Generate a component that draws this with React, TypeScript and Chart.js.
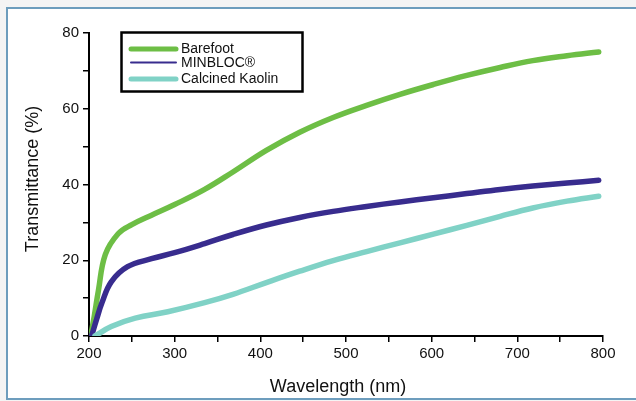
import { useEffect, useRef } from "react";
import { Chart, registerables } from "chart.js";

Chart.register(...registerables);

// ---- Data ----
const barefootWl = [202, 206, 211, 219, 234, 250, 273, 300, 335, 368, 407, 446, 485, 524, 563, 602, 641, 680, 718, 758, 795];
const barefootT = [0, 5, 12, 21.5, 27, 29.4, 31.9, 34.7, 38.7, 43.3, 49.0, 53.8, 57.7, 60.9, 63.8, 66.4, 68.8, 70.9, 72.7, 74.0, 75.0];

const minblocWl = [203, 209, 215, 226, 245, 273, 300, 335, 368, 407, 446, 485, 524, 563, 602, 641, 680, 718, 758, 795];
const minblocT = [0, 4.5, 8.7, 14.3, 18.3, 20.4, 22.0, 24.4, 26.8, 29.3, 31.3, 32.9, 34.2, 35.4, 36.5, 37.6, 38.7, 39.6, 40.4, 41.1];

const kaolinWl = [207, 226, 254, 292, 335, 368, 407, 446, 485, 524, 563, 602, 641, 680, 718, 758, 795];
const kaolinT = [0, 2.5, 4.7, 6.4, 8.8, 11.0, 14.1, 17.1, 19.9, 22.3, 24.6, 26.9, 29.2, 31.6, 33.8, 35.6, 36.9];

const seriesNames = ["Barefoot", "MINBLOC®", "Calcined Kaolin"];
const xTitle = "Wavelength (nm)";
const yTitle = "Transmittance (%)";
const xMin = 200, xMax = 800, xStep = 50, xLabelEvery = 100;
const yMin = 0, yMax = 80, yStep = 10, yLabelEvery = 20;

const GREEN = "#6dbe45";
const PURPLE = "#382c8e";
const TEAL = "#80d2c6";
const FRAME = "#6d9dbd";
const FONT = "'Liberation Sans', Arial, Helvetica, sans-serif";

const toPts = (xs: number[], ys: number[]) => xs.map((x, i) => ({ x, y: ys[i] }));

const framePlugin = {
  id: "frame",
  beforeDraw(chart: any) {
    const { ctx, width, height } = chart;
    ctx.save();
    ctx.fillStyle = "#f4f4f4";
    ctx.fillRect(0, 0, width, height);
    ctx.fillStyle = "#ffffff";
    ctx.fillRect(8, 9, width - 8, 389);
    ctx.fillStyle = FRAME;
    ctx.fillRect(6, 7, width - 6, 2);
    ctx.fillRect(6, 7, 2, 393);
    ctx.fillRect(6, 398, width - 6, 2);
    ctx.restore();
  },
};

const decorPlugin = {
  id: "decor",
  afterDraw(chart: any) {
    const { ctx } = chart;
    ctx.save();
    // axis titles
    ctx.fillStyle = "#111";
    ctx.font = `18px ${FONT}`;
    ctx.textAlign = "center";
    ctx.textBaseline = "middle";
    ctx.fillText(xTitle, 338, 387);
    ctx.translate(33, 179);
    ctx.rotate(-Math.PI / 2);
    ctx.fillText(yTitle, 0, 0);
    ctx.restore();

    // legend
    ctx.save();
    const bx = 121.5, by = 32.5, bw = 181, bh = 59;
    ctx.fillStyle = "#fff";
    ctx.fillRect(bx, by, bw, bh);
    ctx.strokeStyle = "#000";
    ctx.lineWidth = 2.5;
    ctx.strokeRect(bx, by, bw, bh);
    const rows = [49, 62.5, 79];
    const colors = [GREEN, PURPLE, TEAL];
    const widths = [5, 2, 5];
    ctx.lineCap = "round";
    seriesNames.forEach((name, i) => {
      ctx.strokeStyle = colors[i];
      ctx.lineWidth = widths[i];
      ctx.beginPath();
      ctx.moveTo(131, rows[i]);
      ctx.lineTo(176, rows[i]);
      ctx.stroke();
      ctx.fillStyle = "#111";
      ctx.font = `14px ${FONT}`;
      ctx.textAlign = "left";
      ctx.textBaseline = "middle";
      ctx.fillText(name, 181, rows[i] + 0.5);
    });
    ctx.restore();
  },
};

export default function App() {
  const ref = useRef<HTMLCanvasElement | null>(null);
  useEffect(() => {
    if (!ref.current) return;
    const lineDs = (label: string, data: any[], color: string) => ({
      label,
      data,
      borderColor: color,
      backgroundColor: color,
      borderWidth: 5.5,
      borderCapStyle: "round" as const,
      borderJoinStyle: "round" as const,
      pointRadius: 0,
      tension: 0.4,
      fill: false,
    });
    const chart = new Chart(ref.current, {
      type: "line",
      data: {
        datasets: [
          lineDs(seriesNames[2], toPts(kaolinWl, kaolinT), TEAL),
          lineDs(seriesNames[1], toPts(minblocWl, minblocT), PURPLE),
          lineDs(seriesNames[0], toPts(barefootWl, barefootT), GREEN),
        ],
      },
      options: {
        responsive: false,
        animation: false,
        devicePixelRatio: 1,
        layout: { padding: { top: 33, right: 33, left: 0, bottom: 0 } },
        plugins: { legend: { display: false }, tooltip: { enabled: false }, title: { display: false } },
        scales: {
          x: {
            type: "linear",
            min: xMin,
            max: xMax,
            afterFit: (s: any) => { s.height = 65; },
            border: { display: true, color: "#000", width: 2 },
            grid: { drawOnChartArea: false, drawTicks: true, tickLength: 6, color: "#000", lineWidth: 1.5 },
            ticks: {
              stepSize: xStep,
              padding: 3,
              color: "#111",
              font: { family: FONT, size: 15 },
              maxRotation: 0,
              autoSkip: false,
              callback: (v: any) => (Number(v) % xLabelEvery === 0 ? String(v) : ""),
            },
          },
          y: {
            type: "linear",
            min: yMin,
            max: yMax,
            afterFit: (s: any) => { s.width = 89; },
            border: { display: true, color: "#000", width: 2 },
            grid: { drawOnChartArea: false, drawTicks: true, tickLength: 6, color: "#000", lineWidth: 1.5 },
            ticks: {
              stepSize: yStep,
              padding: 4,
              color: "#111",
              font: { family: FONT, size: 15 },
              autoSkip: false,
              callback: (v: any) => (Number(v) % yLabelEvery === 0 ? String(v) : ""),
            },
          },
        },
      },
      plugins: [framePlugin, decorPlugin],
    });
    return () => chart.destroy();
  }, []);
  return (
    <div style={{ position: "absolute", left: 0, top: 0, width: 636, height: 401 }}>
      <canvas ref={ref} width={636} height={401} style={{ display: "block", width: 636, height: 401 }} />
    </div>
  );
}
